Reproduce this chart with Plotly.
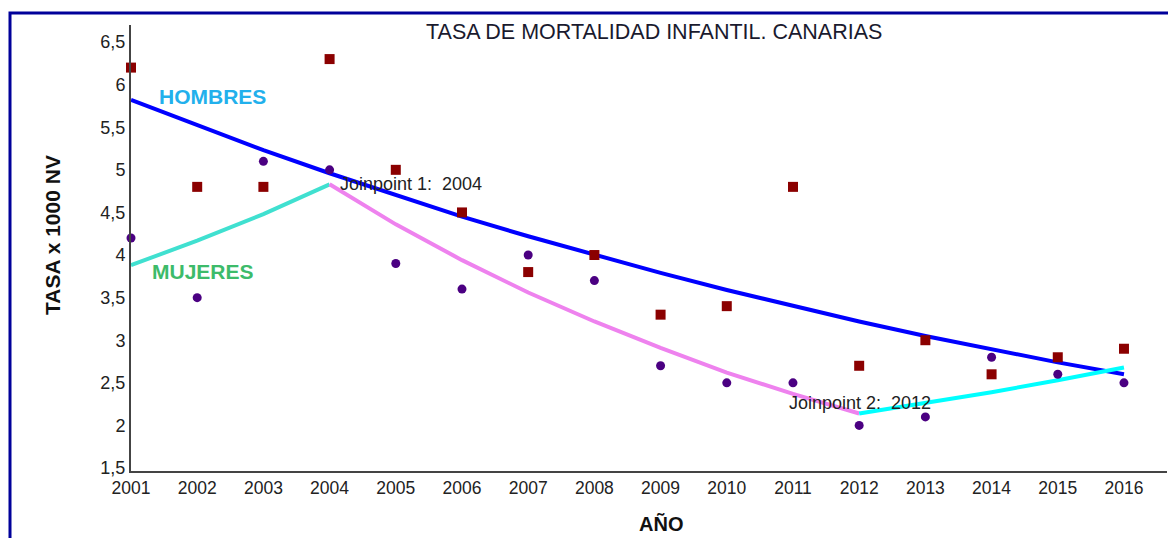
import plotly.graph_objects as go

years = list(range(2001, 2017))
hombres = [6.2, 4.8, 4.8, 6.3, 5.0, 4.5, 3.8, 4.0, 3.3, 3.4, 4.8, 2.7, 3.0, 2.6, 2.8, 2.9]
mujeres = [4.2, 3.5, 5.1, 5.0, 3.9, 3.6, 4.0, 3.7, 2.7, 2.5, 2.5, 2.0, 2.1, 2.8, 2.6, 2.5]

hombres_fit = [5.82, 5.52, 5.23, 4.96, 4.70, 4.45, 4.22, 4.00, 3.79, 3.59, 3.40, 3.22, 3.05, 2.89, 2.74, 2.60]
muj_fit1_years = [2001, 2002, 2003, 2004]
muj_fit1 = [3.88, 4.17, 4.48, 4.83]
muj_fit2_years = [2004, 2005, 2006, 2007, 2008, 2009, 2010, 2011, 2012]
muj_fit2 = [4.83, 4.36, 3.94, 3.56, 3.22, 2.91, 2.62, 2.37, 2.14]
muj_fit3_years = [2012, 2013, 2014, 2015, 2016]
muj_fit3 = [2.14, 2.26, 2.39, 2.53, 2.68]

y_ticks = [1.5, 2, 2.5, 3, 3.5, 4, 4.5, 5, 5.5, 6, 6.5]

FONT = "Arial, Liberation Sans, sans-serif"
W, H = 1168, 538
L, R, T, B = 131, 1, 25, 67
PW, PH = W - L - R, H - T - B


def px(x):
    return (x - L) / PW


def py(y):
    return (H - B - y) / PH


fig = go.Figure()
fig.add_trace(go.Scatter(x=years, y=hombres_fit, mode="lines",
                         line=dict(color="#0000FF", width=4), showlegend=False))
fig.add_trace(go.Scatter(x=muj_fit1_years, y=muj_fit1, mode="lines",
                         line=dict(color="#40E0D0", width=4), showlegend=False))
fig.add_trace(go.Scatter(x=muj_fit2_years, y=muj_fit2, mode="lines",
                         line=dict(color="#EE82EE", width=4), showlegend=False))
fig.add_trace(go.Scatter(x=muj_fit3_years, y=muj_fit3, mode="lines",
                         line=dict(color="#00FFFF", width=4), showlegend=False))
fig.add_trace(go.Scatter(x=years, y=hombres, mode="markers",
                         marker=dict(symbol="square", size=10, color="#8B0000"),
                         showlegend=False, cliponaxis=False))
fig.add_trace(go.Scatter(x=years, y=mujeres, mode="markers",
                         marker=dict(symbol="circle", size=9, color="#4B0082"),
                         showlegend=False, cliponaxis=False))

annotations = [
    dict(text="TASA DE MORTALIDAD INFANTIL. CANARIAS", x=px(654), y=py(32),
         font=dict(size=21.5, color="#1a1a2e", family=FONT)),
    dict(text="<b>HOMBRES</b>", x=px(212), y=py(96),
         font=dict(size=21, color="#22B0EC", family=FONT)),
    dict(text="<b>MUJERES</b>", x=px(203), y=py(271),
         font=dict(size=21, color="#3DBB6A", family=FONT)),
    dict(text="Joinpoint 1: \u00a02004", x=px(338), y=py(184), xanchor="left",
         font=dict(size=18, color="#222222", family=FONT)),
    dict(text="Joinpoint 2: \u00a02012", x=px(787), y=py(403), xanchor="left",
         font=dict(size=18, color="#222222", family=FONT)),
    dict(text="<b>TASA x 1000 NV</b>", x=px(52), y=py(235), textangle=-90,
         font=dict(size=21, color="#111111", family=FONT)),
    dict(text="<b>AÑO</b>", x=px(661), y=py(524),
         font=dict(size=20, color="#111111", family=FONT)),
]
for a in annotations:
    a.setdefault("xanchor", "center")
    a.update(xref="paper", yref="paper", yanchor="middle", showarrow=False)

border_path = "M {x0},{yb} L {x0},{yt} L {x1},{yt}".format(
    x0=px(10), yb=py(545), yt=py(13), x1=px(1168))
shapes = [
    dict(type="path", xref="paper", yref="paper", path=border_path,
         line=dict(color="#00009A", width=3)),
]

fig.update_layout(
    width=W, height=H,
    margin=dict(l=L, r=R, t=T, b=B, pad=0),
    paper_bgcolor="white", plot_bgcolor="white",
    separators=",.",
    font=dict(family=FONT, color="#222222"),
    annotations=annotations, shapes=shapes,
    xaxis=dict(range=[2001, 2016.65], tickmode="array", tickvals=years,
               ticktext=[str(y) for y in years], showgrid=False, zeroline=False,
               showline=True, linecolor="#444444", linewidth=2, ticks="",
               mirror=False, showspikes=False,
               tickfont=dict(size=17.5, family=FONT, color="#222222")),
    yaxis=dict(range=[1.465, 6.70], tickmode="array", tickvals=y_ticks,
               ticktext=[str(v).replace(".", ",") for v in y_ticks],
               showgrid=False, zeroline=False, mirror=False, showspikes=False,
               showline=True, linecolor="#444444", linewidth=2, ticks="",
               tickfont=dict(size=18, family=FONT, color="#222222")),
)

fig.write_html(
    "out.html", config={"displayModeBar": False},
    post_script=("document.documentElement.style.margin='0';"
                 "document.documentElement.style.overflow='hidden';"
                 "document.body.style.margin='0';"
                 "document.body.style.padding='0';"
                 "document.body.style.overflow='hidden';"
                 "var gd=document.getElementById('{plot_id}');"
                 "gd.style.position='fixed';gd.style.left='0px';gd.style.top='0px';"))
